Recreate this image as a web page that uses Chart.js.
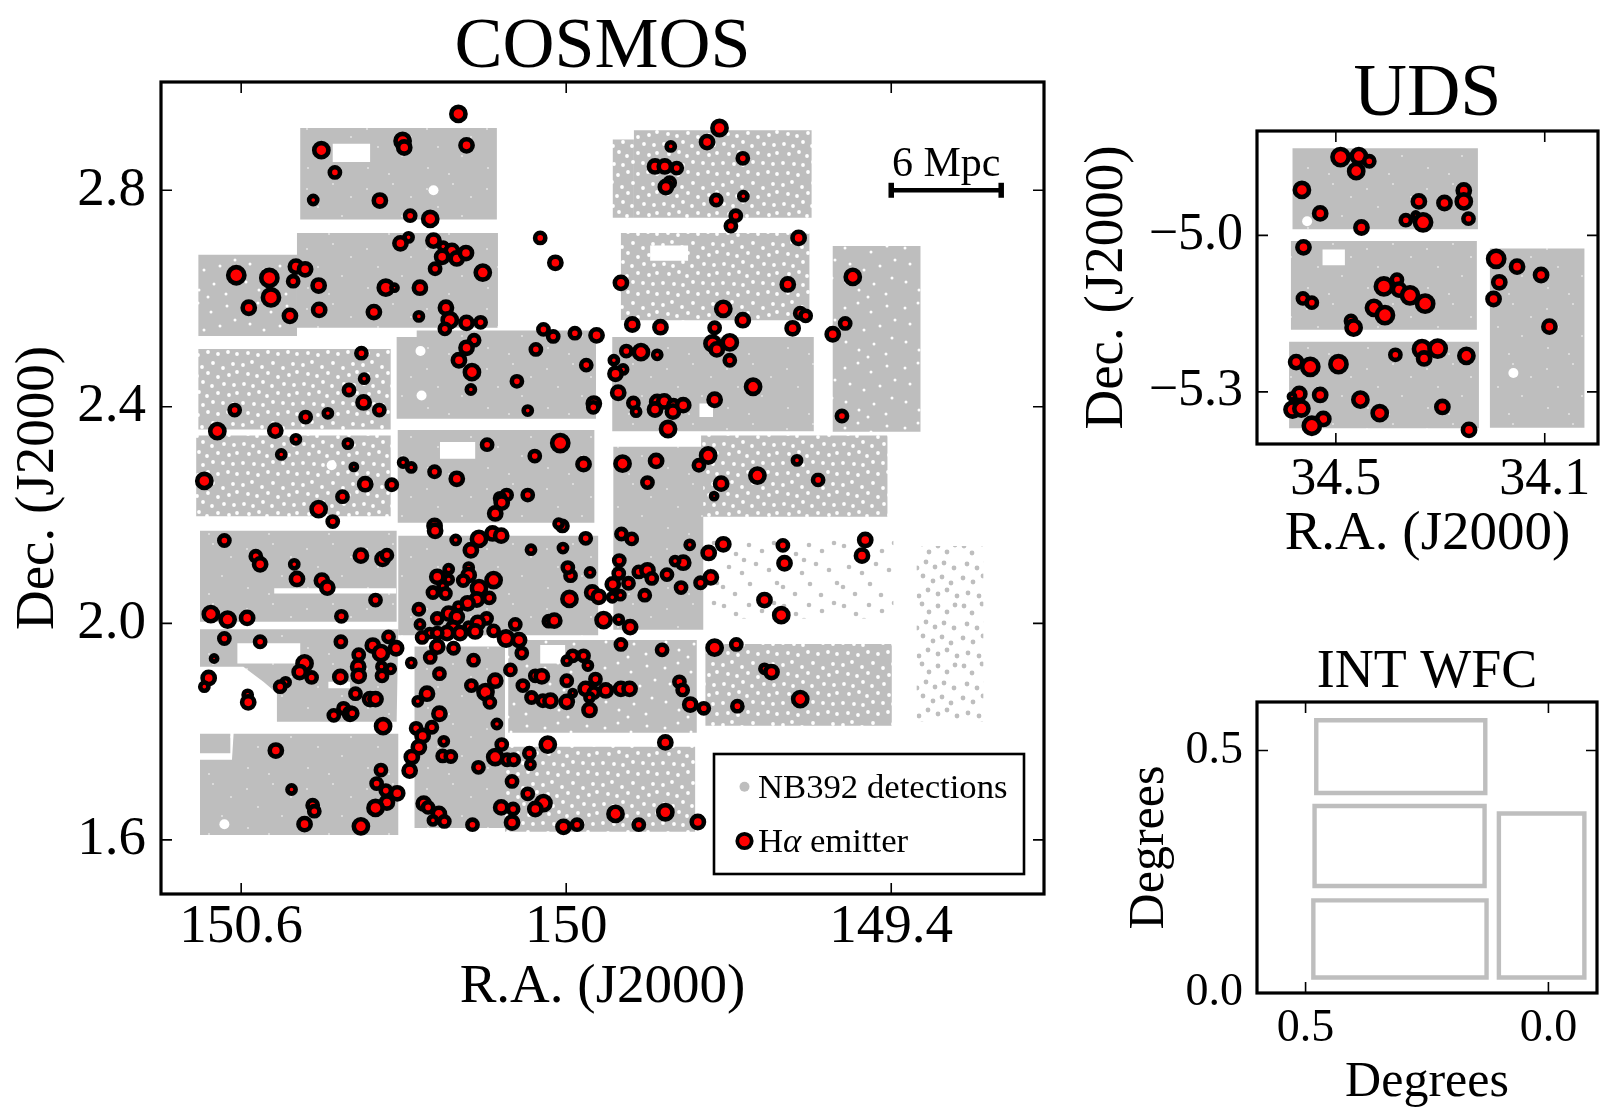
<!DOCTYPE html>
<html>
<head>
<meta charset="utf-8">
<title>COSMOS and UDS fields</title>
<script src="https://cdn.jsdelivr.net/npm/chart.js@4/dist/chart.umd.js"></script>
<style>
  html, body { margin: 0; padding: 0; background: #fff; }
  canvas { position: absolute; }
</style>
</head>
<body>
<canvas id="cosmos" width="1060" height="1110" style="left:0;top:0"></canvas>
<canvas id="uds" width="556" height="640" style="left:1060px;top:0"></canvas>
<canvas id="wfc" width="556" height="470" style="left:1060px;top:640px"></canvas>
<script>
// COSMOS emitters. flux is a size class, 0 (faint) to 5 (bright)
const cosmosRa = [
  150.199,150.452,150.302,150.299,150.184,150.427,150.467,150.344,
  150.288,150.251,150.048,150.291,150.306,150.245,150.227,150.211,
  150.229,150.202,150.185,150.242,150.020,150.154,150.499,150.482,
  150.609,150.548,150.504,150.457,150.333,150.317,150.270,150.545,
  150.586,150.510,150.456,150.355,150.272,150.222,150.215,150.224,
  150.184,150.158,150.042,150.024,149.984,149.944,150.170,150.184,
  150.056,150.198,150.174,149.963,150.091,150.176,150.378,150.373,
  150.401,150.374,150.345,150.612,150.440,150.481,150.071,149.949,
  149.950,150.644,150.537,150.499,150.403,150.146,150.011,150.526,
  150.058,149.968,150.301,150.286,150.243,150.202,150.392,150.371,
  150.322,150.668,
  149.717,149.740,149.807,149.674,149.836,149.818,149.796,149.809,
  149.816,149.723,149.673,149.687,149.696,149.571,149.899,149.591,
  149.471,149.710,149.674,149.568,149.558,149.485,149.508,149.726,
  149.582,149.878,149.826,149.730,149.722,149.698,149.698,149.889,
  149.862,149.832,149.912,149.895,149.909,149.904,149.655,149.726,
  149.876,149.871,149.832,149.819,149.836,149.802,149.803,149.784,
  149.491,149.812,149.896,149.834,149.738,149.755,149.647,149.574,
  149.850,149.714,149.535,
  150.457,150.431,150.413,150.631,150.573,150.565,150.502,150.497,
  150.451,150.441,150.379,150.339,150.331,150.352,150.656,150.625,
  150.589,150.415,150.631,150.565,150.416,150.328,150.357,150.342,
  150.314,150.383,150.384,150.383,150.341,150.324,150.340,150.650,
  150.483,150.492,150.470,150.660,150.668,150.518,150.528,150.417,
  150.588,150.587,150.389,150.362,150.352,150.411,150.429,150.399,
  150.395,150.338,150.536,150.342,150.350,150.333,150.312,150.331,
  150.352,150.507,150.468,150.465,150.483,150.379,
  150.110,150.122,150.119,150.131,150.071,150.243,150.242,150.007,
  150.014,150.204,150.136,150.120,150.161,150.176,149.964,149.898,
  149.879,150.065,150.006,149.902,150.217,150.180,150.238,150.180,
  150.190,150.217,150.228,150.134,150.161,150.246,150.223,150.165,
  150.142,150.182,150.199,150.272,150.217,150.202,150.238,150.147,
  150.163,150.270,150.180,150.168,150.209,150.094,150.220,150.196,
  150.252,150.266,150.238,150.134,150.111,150.087,150.238,150.208,
  150.251,150.082,150.286,150.171,150.103,150.234,150.131,150.175,
  150.149,150.141,150.257,150.274,150.234,150.248,150.277,150.265,
  150.272,150.285,150.289,150.226,150.228,150.213,150.162,150.128,
  150.119,150.131,150.109,150.097,150.068,150.066,150.034,150.100,
  150.071,150.042,150.057,150.120,150.098,150.100,150.263,150.255,
  150.235,150.246,150.225,150.173,150.005,149.980,149.909,149.866,
  149.992,149.997,149.956,149.994,149.952,149.940,149.914,149.915,
  149.900,149.903,149.885,149.866,149.850,149.842,149.855,150.032,
  150.022,149.931,149.903,149.882,149.899,150.057,150.045,150.080,
  150.064,150.043,150.029,149.999,149.999,149.988,149.968,149.960,
  149.999,149.946,149.964,149.949,149.957,149.957,149.988,149.927,
  149.899,149.883,
  149.727,149.772,149.710,149.737,149.784,149.799,149.814,149.733,
  149.752,149.788,149.600,149.597,149.448,149.454,149.634,149.603,
  149.823,149.726,149.686,149.634,149.621,149.791,149.785,149.771,
  149.746,149.684,149.568,149.817,149.817,149.757
];
const cosmosDec = [
  2.941,2.874,2.891,2.879,2.883,2.833,2.782,2.781,
  2.753,2.747,2.712,2.713,2.702,2.707,2.696,2.688,
  2.677,2.674,2.684,2.655,2.666,2.648,2.659,2.654,
  2.643,2.638,2.632,2.624,2.620,2.620,2.620,2.602,
  2.583,2.568,2.579,2.575,2.567,2.583,2.560,2.544,
  2.555,2.556,2.543,2.530,2.536,2.532,2.523,2.509,
  2.506,2.486,2.464,2.477,2.447,2.432,2.499,2.452,
  2.431,2.408,2.394,2.394,2.388,2.381,2.393,2.406,
  2.399,2.355,2.356,2.340,2.332,2.330,2.333,2.312,
  2.309,2.294,2.297,2.288,2.280,2.267,2.289,2.257,
  2.256,2.263,
  2.915,2.889,2.881,2.859,2.844,2.844,2.841,2.814,
  2.806,2.782,2.789,2.753,2.734,2.712,2.629,2.626,
  2.640,2.581,2.560,2.573,2.568,2.554,2.534,2.546,
  2.545,2.552,2.547,2.517,2.506,2.519,2.486,2.503,
  2.501,2.496,2.486,2.469,2.461,2.426,2.437,2.413,
  2.407,2.391,2.409,2.410,2.395,2.403,2.391,2.403,
  2.383,2.359,2.295,2.300,2.310,2.292,2.273,2.301,
  2.260,2.258,2.265,
  2.211,2.188,2.234,2.153,2.124,2.109,2.109,2.082,
  2.079,2.066,2.125,2.119,2.126,2.043,2.017,2.007,
  2.010,2.013,1.972,1.966,1.966,1.975,1.959,1.945,
  1.954,1.942,1.920,1.903,1.920,1.916,1.903,1.935,
  1.926,1.910,1.900,1.899,1.883,1.891,1.883,1.901,
  1.868,1.854,1.870,1.860,1.860,1.843,1.830,1.833,
  1.834,1.810,1.765,1.729,1.704,1.691,1.686,1.669,
  1.659,1.693,1.664,1.653,1.629,1.625,
  2.237,2.231,2.223,2.203,2.237,2.180,2.171,2.180,
  2.184,2.154,2.166,2.162,2.156,2.135,2.157,2.165,
  2.156,2.136,2.139,2.116,2.100,2.103,2.086,2.089,
  2.079,2.081,2.069,2.080,2.065,2.057,2.055,2.044,
  2.047,2.037,2.031,2.026,2.018,2.012,2.009,2.009,
  2.001,1.998,1.994,1.985,1.991,1.998,1.982,1.982,
  1.982,1.974,1.982,1.986,1.972,1.969,1.957,1.954,
  1.937,1.945,1.927,1.932,1.914,1.907,1.894,1.885,
  1.873,1.854,1.870,1.856,1.833,1.808,1.806,1.792,
  1.771,1.753,1.728,1.782,1.755,1.754,1.734,1.814,
  1.776,1.753,1.748,1.748,1.760,1.739,1.776,1.708,
  1.685,1.668,1.657,1.660,1.657,1.632,1.667,1.660,
  1.648,1.636,1.634,1.628,1.624,1.628,1.648,1.628,
  2.088,2.103,2.094,2.045,2.057,2.049,2.072,2.048,
  2.052,2.092,2.074,2.095,2.098,2.083,2.052,2.004,
  2.005,2.006,2.007,1.993,1.961,1.903,1.902,1.885,
  1.863,1.857,1.857,1.855,1.894,1.940,1.940,1.922,
  1.931,1.897,1.879,1.872,1.863,1.840,1.871,1.876,
  1.879,1.879,
  2.235,2.145,2.146,2.130,2.112,2.115,2.090,2.085,
  2.075,2.066,2.144,2.111,2.154,2.125,2.043,2.015,
  1.951,1.955,1.961,1.916,1.910,1.892,1.877,1.850,
  1.843,1.847,1.860,1.780,1.651,1.633
];
const cosmosFlux = [
  4,4,4,3,3,2,1,3,
  2,4,2,1,3,3,1,3,
  3,3,3,2,3,4,3,3,
  5,5,2,3,4,0,3,5,
  3,3,3,3,1,3,4,2,
  3,2,2,2,2,3,2,3,
  2,3,4,2,2,1,2,1,
  2,3,2,2,1,2,1,3,
  2,4,3,1,1,2,5,1,
  2,3,1,1,2,3,0,3,
  2,4,
  4,3,1,2,3,3,2,2,
  3,2,1,2,2,3,3,3,
  4,4,3,2,2,2,3,2,
  3,3,3,4,3,4,2,2,
  4,1,1,1,3,3,4,3,
  2,1,3,3,3,2,3,3,
  2,4,4,3,4,2,4,1,
  2,3,2,
  4,2,2,2,2,3,1,3,
  3,3,3,3,2,2,4,4,
  3,2,2,2,2,2,3,4,
  3,2,3,3,1,1,2,0,
  4,3,2,3,1,1,2,3,
  1,3,2,3,3,2,2,3,
  2,4,3,2,2,2,3,3,
  4,1,2,2,3,4,
  2,2,3,3,2,3,3,2,
  1,1,3,3,4,3,2,2,
  2,1,1,2,1,1,3,3,
  2,1,1,4,4,2,2,3,
  2,3,1,2,3,3,2,2,
  3,1,1,3,3,2,3,3,
  1,2,2,2,4,3,3,2,
  2,2,1,2,2,2,3,2,
  4,2,3,1,3,2,2,3,
  3,3,3,1,2,2,2,1,
  2,4,2,2,2,1,4,2,
  2,4,3,3,2,3,3,2,
  3,1,2,2,3,2,4,2,
  2,2,1,4,3,3,3,1,
  1,2,2,2,3,2,2,2,
  3,4,1,3,2,2,3,2,
  2,2,3,3,2,2,2,1,
  1,2,3,2,1,3,0,3,
  3,3,
  0,1,3,3,3,1,2,3,
  2,2,2,3,3,3,3,4,
  2,4,2,1,3,2,2,3,
  2,2,4,3,4,3
];

// UDS emitters
const udsRa = [
  34.491,34.456,34.436,34.461,34.565,34.530,34.451,34.341,
  34.292,34.255,34.255,34.246,34.366,34.347,34.333,34.562,
  34.408,34.383,34.379,34.358,34.329,34.427,34.406,34.471,
  34.466,34.563,34.546,34.193,34.153,34.107,34.187,34.198,
  34.091,34.576,34.549,34.495,34.386,34.335,34.331,34.305,
  34.250,34.570,34.584,34.530,34.453,34.583,34.566,34.416,
  34.296,34.245,34.524,34.546
];
const udsDec = [
  -4.850,-4.848,-4.858,-4.877,-4.913,-4.958,-4.985,-4.935,
  -4.938,-4.914,-4.935,-4.968,-4.971,-4.962,-4.975,-5.023,
  -5.098,-5.085,-5.104,-5.115,-5.131,-5.139,-5.153,-5.164,
  -5.177,-5.121,-5.129,-5.045,-5.060,-5.076,-5.090,-5.122,
  -5.175,-5.243,-5.252,-5.247,-5.229,-5.218,-5.236,-5.217,
  -5.231,-5.304,-5.309,-5.306,-5.315,-5.334,-5.332,-5.341,
  -5.329,-5.373,-5.352,-5.365
];
const udsFlux = [
  5,4,2,4,4,3,3,3,
  3,3,4,2,2,0,5,3,
  5,2,3,5,5,4,5,2,
  4,2,2,5,3,3,3,3,
  3,3,5,5,2,5,3,5,
  4,3,0,3,4,4,4,4,
  3,3,3,5
];

// survey footprints: [ra east, ra west, dec south, dec north]
const cosmosDenseFields = [
  [150.491,150.128,2.746,2.915], [150.497,150.126,2.546,2.721],
  [150.313,149.945,2.378,2.529], [150.276,149.945,2.500,2.541],
  [149.915,149.543,2.355,2.529], [150.311,149.948,2.186,2.357],
  [149.913,149.747,1.988,2.326], [150.676,150.313,2.003,2.171],
  [150.310,149.941,1.978,2.162], [150.280,150.113,1.622,1.957],
  [150.676,150.620,1.760,1.796]
];
const cosmosMediumFields = [
  [150.679,150.497,2.531,2.681], [149.508,149.346,2.354,2.697],
  [150.107,149.759,1.798,1.969]
];
const cosmosHeavyFields = [
  [149.875,149.547,2.749,2.911], [149.914,149.875,2.749,2.894],
  [149.899,149.551,2.560,2.721], [150.679,150.324,2.358,2.507],
  [150.683,150.324,2.198,2.347], [149.751,149.407,2.197,2.347],
  [149.743,149.399,1.811,1.962], [150.113,149.762,1.615,1.772]
];
const cosmosSparseFields = [[149.734,149.396,2.009,2.154]];
const cosmosThinFields = [[149.353,149.230,1.818,2.143]];
const cosmosOddFields = [
  [[150.676,1.989],[150.310,1.989],[150.313,1.818],[150.534,1.818],
   [150.534,1.871],[150.559,1.892],[150.596,1.920],[150.676,1.920],[150.676,1.989]],
  [[150.676,1.748],[150.617,1.748],[150.614,1.796],[150.310,1.796],
   [150.310,1.609],[150.676,1.609],[150.676,1.748]]
];
const cosmosMasks = [
  [150.431,150.362,2.852,2.886], [150.233,150.168,2.304,2.335],
  [149.845,149.775,2.670,2.698], [150.539,150.314,2.055,2.065],
  [150.607,150.491,1.926,1.963], [149.754,149.729,2.381,2.406],
  [150.048,150.002,1.926,1.960], [150.439,150.399,1.880,1.892]
];
const cosmosHoleRa = [150.245,150.269,150.267,150.433,150.631];
const cosmosHoleDec = [2.800,2.503,2.421,2.292,1.629];

const udsFields = [
  [34.583,34.228,-4.9885,-4.833], [34.586,34.230,-5.181,-5.011],
  [34.5895,34.226,-5.370,-5.204], [34.205,34.024,-5.369,-5.025]
];
const udsMasks = [[34.5255,34.4827,-5.0575,-5.027]];
const udsHoleRa = [34.555,34.160];
const udsHoleDec = [-4.973,-5.264];

const wfcChips = [
  [0.478,0.130,0.4125,0.5625], [0.4815,0.1315,0.2207,0.3857],
  [0.484,0.1274,0.032,0.191], [0.102,-0.074,0.032,0.37]
];

const scaleBarRa = [149.4,149.197];
const scaleBarDec = [2.8,2.8];

const cosmosRaTicks = [150.6,150,149.4];
const cosmosRaLabels = ['150.6','150','149.4'];
const cosmosDecTicks = [2.8,2.4,2.0,1.6];
const cosmosDecLabels = ['2.8','2.4','2.0','1.6'];
const udsRaTicks = [34.5,34.1];
const udsRaLabels = ['34.5','34.1'];
const udsDecTicks = [-5.0,-5.3];
const udsDecLabels = ['\u22125.0','\u22125.3'];
const wfcXTicks = [0.5,0.0];
const wfcYTicks = [0.5,0.0];
const wfcTickLabels = ['0.5','0.0'];

const GREY = '#bebebe';
const SERIF = '"Liberation Serif", serif';
Chart.defaults.color = '#000';
Chart.defaults.font.family = SERIF;

// stipple tiles for the footprints where single detections show through
const makeTile = (bg, fg, r, spots) => {
    const c = document.createElement('canvas');
    c.width = 60; c.height = 60;
    const t = c.getContext('2d');
    t.fillStyle = bg;
    t.fillRect(0, 0, 60, 60);
    t.fillStyle = fg;
    spots.forEach(s => {
        t.beginPath();
        t.arc(s[0], s[1], r, 0, Math.PI * 2);
        t.fill();
    });
    return t.createPattern(c, 'repeat');
};
const faintTile = makeTile(GREY, '#fff', 0.8, [[7,9],[33,4],[51,17],[18,27],[42,36],[8,48],[29,54]]);
const mediumTile = makeTile(GREY, '#fff', 1.5, [[5,8],[18,3],[31,12],[47,6],[55,20],[10,24],[24,30],[40,26],[52,38],[6,42],[19,50],[34,44],[46,54],[28,57]]);
const heavyTile = makeTile(GREY, '#fff', 1.9, [
    [3,5],[12,2],[22,7],[33,3],[43,8],[53,4],[8,14],[17,16],[28,13],[38,17],[49,15],[57,12],
    [4,24],[13,26],[23,22],[32,26],[44,24],[54,25],[9,34],[19,32],[27,36],[38,33],[49,35],[57,33],
    [3,43],[14,44],[23,45],[33,42],[43,43],[53,44],[8,53],[18,55],[28,52],[38,54],[48,52],[57,54]
]);
const sparseTile = makeTile('#fff', GREY, 2.3, [[4,6],[16,14],[29,5],[42,11],[54,3],[9,27],[22,33],[36,24],[49,30],[57,43],[3,47],[15,54],[30,44],[41,55],[24,20]]);
const thinTile = makeTile('#fff', GREY, 2.4, [[4,6],[12,13],[22,4],[29,12],[38,6],[47,12],[55,5],[7,24],[17,28],[26,22],[35,27],[44,23],[54,28],[3,38],[13,42],[23,36],[33,41],[42,37],[51,43],[8,53],[19,56],[28,50],[38,54],[47,50],[57,56]]);

const rectPoints = f => [
    {x: f[0], y: f[2]}, {x: f[1], y: f[2]}, {x: f[1], y: f[3]}, {x: f[0], y: f[3]}, {x: f[0], y: f[2]}
];

const fieldSet = (points, fillStyle) => ({
    data: points,
    showLine: true,
    fill: 'shape',
    tension: 0,
    borderWidth: 0,
    pointRadius: 0,
    backgroundColor: fillStyle
});

const emitterSet = (ra, dec, flux) => ({
    data: ra.map((v, i) => ({x: v, y: dec[i]})),
    pointBackgroundColor: '#ff0000',
    pointBorderColor: '#000',
    pointBorderWidth: 4.6,
    pointRadius: flux.map(f => 3.1 + f),
    showLine: false
});

const holeSet = (ra, dec) => ({
    data: ra.map((v, i) => ({x: v, y: dec[i]})),
    pointBackgroundColor: '#fff',
    pointBorderWidth: 0,
    pointRadius: 5,
    showLine: false
});

// matplotlib style box: closed frame with ticks pointing in on all four sides
const framePlugin = {
    id: 'frame',
    afterDatasetsDraw(chart) {
        const {ctx, chartArea: a, scales} = chart;
        ctx.save();
        ctx.strokeStyle = '#000';
        ctx.lineWidth = 1.6;
        ctx.beginPath();
        scales.x.ticks.forEach(t => {
            const p = scales.x.getPixelForValue(t.value);
            ctx.moveTo(p, a.top); ctx.lineTo(p, a.top + 11);
            ctx.moveTo(p, a.bottom); ctx.lineTo(p, a.bottom - 11);
        });
        scales.y.ticks.forEach(t => {
            const p = scales.y.getPixelForValue(t.value);
            ctx.moveTo(a.left, p); ctx.lineTo(a.left + 11, p);
            ctx.moveTo(a.right, p); ctx.lineTo(a.right - 11, p);
        });
        ctx.stroke();
        ctx.lineWidth = 3.2;
        ctx.strokeRect(a.left, a.top, a.right - a.left, a.bottom - a.top);
        ctx.restore();
    }
};

const cosmosNotes = {
    id: 'cosmosNotes',
    afterDraw(chart) {
        const {ctx} = chart;
        ctx.save();
        ctx.fillStyle = '#000';
        ctx.textBaseline = 'alphabetic';
        ctx.textAlign = 'center';
        ctx.font = '42px ' + SERIF;
        ctx.fillText('6 Mpc', chart.scales.x.getPixelForValue(149.2985), 176);

        // legend box
        ctx.fillStyle = '#fff';
        ctx.fillRect(714, 754, 310, 120);
        ctx.strokeStyle = '#000';
        ctx.lineWidth = 2.6;
        ctx.strokeRect(714, 754, 310, 120);
        ctx.fillStyle = GREY;
        ctx.beginPath();
        ctx.arc(744.5, 786.7, 5, 0, Math.PI * 2);
        ctx.fill();
        ctx.fillStyle = '#ff0000';
        ctx.strokeStyle = '#000';
        ctx.lineWidth = 3.8;
        ctx.beginPath();
        ctx.arc(744.5, 841, 7.2, 0, Math.PI * 2);
        ctx.fill();
        ctx.stroke();
        ctx.fillStyle = '#000';
        ctx.textAlign = 'left';
        ctx.font = '34.7px ' + SERIF;
        ctx.fillText('NB392 detections', 758, 798);
        let x = 758;
        ctx.fillText('H', x, 852);
        x += ctx.measureText('H').width;
        ctx.font = 'italic 34.7px ' + SERIF;
        ctx.fillText('\u03b1', x, 852);
        x += ctx.measureText('\u03b1').width;
        ctx.font = '34.7px ' + SERIF;
        ctx.fillText(' emitter', x, 852);
        ctx.restore();
    }
};

// cfg carries the limits, ticks, fonts and the pixel box of each panel
const panelOptions = cfg => ({
    responsive: false,
    animation: false,
    events: [],
    layout: {padding: {left: 0, top: 0, right: cfg.padRight, bottom: cfg.padBottom}},
    plugins: {
        legend: {display: false},
        tooltip: {enabled: false},
        title: {
            display: true,
            text: cfg.title,
            fullSize: false,
            font: {size: cfg.titleSize, weight: 'normal', lineHeight: 1},
            padding: cfg.titlePad
        }
    },
    scales: {
        x: {
            type: 'linear',
            reverse: true,
            min: cfg.xMin,
            max: cfg.xMax,
            border: {display: false},
            grid: {display: false, drawTicks: false},
            afterBuildTicks: s => { s.ticks = cfg.xTicks.map(v => ({value: v})); },
            afterFit: s => { s.height = cfg.xBoxHeight; },
            ticks: {
                autoSkip: false, maxRotation: 0, padding: cfg.xTickPad,
                font: {size: cfg.tickSize},
                callback: v => cfg.xLabels[cfg.xTicks.indexOf(v)]
            },
            title: {
                display: true, text: cfg.xTitle,
                font: {size: cfg.axisSize, lineHeight: 1},
                padding: {top: 0, bottom: 0}
            }
        },
        y: {
            type: 'linear',
            min: cfg.yMin,
            max: cfg.yMax,
            border: {display: false},
            grid: {display: false, drawTicks: false},
            afterBuildTicks: s => { s.ticks = cfg.yTicks.map(v => ({value: v})); },
            afterFit: s => { s.width = cfg.yBoxWidth; },
            ticks: {
                autoSkip: false, padding: cfg.yTickPad,
                font: {size: cfg.tickSize},
                callback: v => cfg.yLabels[cfg.yTicks.indexOf(v)]
            },
            title: {
                display: true, text: cfg.yTitle,
                font: {size: cfg.axisSize, lineHeight: 1},
                padding: {top: cfg.yTitleLeft, bottom: 0}
            }
        }
    }
});

// first dataset in the list ends up on top
const cosmosSets = [
    {
        data: scaleBarRa.map((v, i) => ({x: v, y: scaleBarDec[i]})),
        showLine: true,
        borderColor: '#000',
        borderWidth: 4.5,
        pointStyle: 'line',
        pointRotation: 90,
        pointRadius: 7.5,
        pointBorderWidth: 5.5,
        pointBorderColor: '#000'
    },
    emitterSet(cosmosRa, cosmosDec, cosmosFlux),
    holeSet(cosmosHoleRa, cosmosHoleDec),
    ...cosmosMasks.map(f => fieldSet(rectPoints(f), '#fff')),
    ...cosmosDenseFields.map(f => fieldSet(rectPoints(f), faintTile)),
    ...cosmosOddFields.map(p => fieldSet(p.map(q => ({x: q[0], y: q[1]})), faintTile)),
    ...cosmosMediumFields.map(f => fieldSet(rectPoints(f), mediumTile)),
    ...cosmosHeavyFields.map(f => fieldSet(rectPoints(f), heavyTile)),
    ...cosmosSparseFields.map(f => fieldSet(rectPoints(f), sparseTile)),
    ...cosmosThinFields.map(f => fieldSet(rectPoints(f), thinTile))
];

new Chart(document.getElementById('cosmos'), {
    type: 'scatter',
    data: {datasets: cosmosSets},
    options: panelOptions({
        title: 'COSMOS', titleSize: 72, titlePad: {top: 12, bottom: -2},
        padRight: 16, padBottom: 95,
        xMin: 149.118, xMax: 150.748, yMin: 1.5, yMax: 3.0,
        xTicks: cosmosRaTicks, xLabels: cosmosRaLabels,
        yTicks: cosmosDecTicks, yLabels: cosmosDecLabels,
        xTitle: 'R.A. (J2000)', yTitle: 'Dec. (J2000)',
        tickSize: 55, axisSize: 55,
        xBoxHeight: 121, yBoxWidth: 161, xTickPad: 1, yTickPad: 15, yTitleLeft: 11
    }),
    plugins: [framePlugin, cosmosNotes]
});

new Chart(document.getElementById('uds'), {
    type: 'scatter',
    data: {datasets: [
        emitterSet(udsRa, udsDec, udsFlux),
        holeSet(udsHoleRa, udsHoleDec),
        ...udsMasks.map(f => fieldSet(rectPoints(f), '#fff')),
        ...udsFields.map(f => fieldSet(rectPoints(f), faintTile))
    ]},
    options: panelOptions({
        title: 'UDS', titleSize: 74, titlePad: {top: 59, bottom: -2},
        padRight: 18, padBottom: 77.5,
        xMin: 33.998, xMax: 34.651, yMin: -5.4, yMax: -4.8,
        xTicks: udsRaTicks, xLabels: udsRaLabels,
        yTicks: udsDecTicks, yLabels: udsDecLabels,
        xTitle: 'R.A. (J2000)', yTitle: 'Dec. (J2000)',
        tickSize: 52, axisSize: 55,
        xBoxHeight: 118.5, yBoxWidth: 197, xTickPad: 5, yTickPad: 14, yTitleLeft: 20
    }),
    plugins: [framePlugin]
});

new Chart(document.getElementById('wfc'), {
    type: 'scatter',
    data: {datasets: wfcChips.map(f => ({
        data: rectPoints(f),
        showLine: true,
        tension: 0,
        borderColor: GREY,
        borderWidth: 4.4,
        borderCapStyle: 'square',
        borderJoinStyle: 'miter',
        pointRadius: 0
    }))},
    options: panelOptions({
        title: 'INT WFC', titleSize: 54, titlePad: {top: 6, bottom: 2},
        padRight: 19, padBottom: 2,
        xMin: -0.1, xMax: 0.6, yMin: 0, yMax: 0.6,
        xTicks: wfcXTicks, xLabels: wfcTickLabels,
        yTicks: wfcYTicks, yLabels: wfcTickLabels,
        xTitle: 'Degrees', yTitle: 'Degrees',
        tickSize: 46, axisSize: 50,
        xBoxHeight: 115, yBoxWidth: 197, xTickPad: 8, yTickPad: 14, yTitleLeft: 65
    }),
    plugins: [framePlugin]
});
</script>
</body>
</html>
